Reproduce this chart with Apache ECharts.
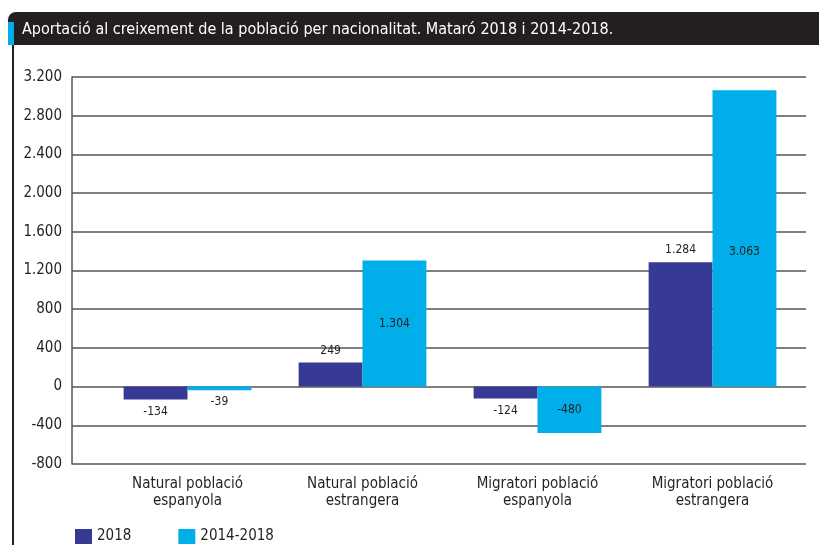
<!DOCTYPE html>
<html>
<head>
<meta charset="utf-8">
<script src="https://cdn.jsdelivr.net/npm/echarts@6/dist/echarts.min.js"></script>
<style>
  html, body { margin: 0; padding: 0; background: #fff; }
  #main { width: 819px; height: 545px; }
</style>
</head>
<body>
<div id="main"></div>
<script>
const categories = [
  "Natural població\nespanyola",
  "Natural població\nestrangera",
  "Migratori població\nespanyola",
  "Migratori població\nestrangera"
]
const values2018 = [-134, 249, -124, 1284]
const values20142018 = [-39, 1304, -480, 3063]
const yTicks = [-800, 3200, 400]

const font = '"Liberation Sans Narrow", "DejaVu Sans Condensed", sans-serif'
const dark = "#231f20"
const blue = "#363a94"
const cyan = "#00aeea"

function fmt (v) {
  const s = Math.abs(v).toString().replace(/\B(?=(\d{3})+(?!\d))/g, ".")
  return (v < 0 ? "-" : "") + s
}

const series2018 = values2018.map(v => ({
  value: v,
  label: { position: v < 0 ? "bottom" : "top" }
}))
const series1418 = values20142018.map((v, i) => {
  let label = { position: "inside" }
  if (Math.abs(v) < 200) label = { position: "bottom" }
  // label of the tallest bar sits near the 1.200 line, not in the middle
  if (i === 3) label = { position: "inside", offset: [0, 13] }
  return { value: v, label }
})

const chart = echarts.init(document.getElementById("main"))
const option = {
  animation: false,
  textStyle: { fontFamily: font },
  graphic: [
    {
      type: "rect",
      shape: { x: 8, y: 12, width: 811, height: 33, r: [8, 0, 0, 0] },
      style: { fill: dark }
    },
    {
      type: "rect",
      shape: { x: 8, y: 22, width: 6, height: 23 },
      style: { fill: cyan }
    },
    {
      type: "rect",
      shape: { x: 12, y: 45, width: 2, height: 500 },
      style: { fill: dark }
    },
    {
      type: "text",
      x: 22,
      y: 30,
      style: {
        text: "Aportació al creixement de la població per nacionalitat. Mataró 2018 i 2014-2018.",
        fill: "#fff",
        font: '16px "Liberation Sans Narrow", "DejaVu Sans Condensed", sans-serif',
        verticalAlign: "middle"
      }
    }
  ],
  legend: {
    left: 70,
    bottom: -4,
    icon: "rect",
    itemWidth: 17,
    itemHeight: 15,
    itemGap: 47,
    textStyle: { fontSize: 15, color: dark, fontFamily: font },
    data: ["2018", "2014-2018"]
  },
  grid: { left: 100, right: 19, top: 77, bottom: 81 },
  xAxis: {
    type: "category",
    data: categories,
    axisLine: { show: false },
    axisTick: { show: false },
    axisLabel: {
      interval: 0,
      margin: 12,
      fontSize: 15,
      lineHeight: 17,
      color: dark,
      fontFamily: font
    }
  },
  yAxis: [
    {
      type: "value",
      min: yTicks[0],
      max: yTicks[1],
      interval: yTicks[2],
      offset: 28,
      axisLine: { show: true, onZero: false, lineStyle: { color: "#555", width: 1.5 } },
      axisTick: { show: true, inside: true, length: 28, lineStyle: { color: "#555", width: 1.5 } },
      axisLabel: {
        margin: 10,
        fontSize: 15,
        color: dark,
        fontFamily: font,
        formatter: fmt
      },
      splitLine: { lineStyle: { color: "#555", width: 1.5 } }
    },
    {
      type: "value",
      min: yTicks[0],
      max: yTicks[1],
      interval: yTicks[2],
      position: "right",
      offset: 6,
      axisLine: { show: false },
      axisTick: { show: true, inside: true, length: 6, lineStyle: { color: "#555", width: 1.5 } },
      axisLabel: { show: false },
      splitLine: { show: false }
    }
  ],
  series: [
    {
      name: "2018",
      type: "bar",
      data: series2018,
      itemStyle: { color: blue },
      barGap: "0%",
      barCategoryGap: "27%",
      label: {
        show: true,
        distance: 6,
        fontSize: 12,
        color: dark,
        fontFamily: font,
        formatter: p => fmt(p.value)
      }
    },
    {
      name: "2014-2018",
      type: "bar",
      data: series1418,
      itemStyle: { color: cyan },
      label: {
        show: true,
        distance: 6,
        fontSize: 12,
        color: dark,
        fontFamily: font,
        formatter: p => fmt(p.value)
      }
    }
  ]
}
chart.setOption(option)
</script>
</body>
</html>
